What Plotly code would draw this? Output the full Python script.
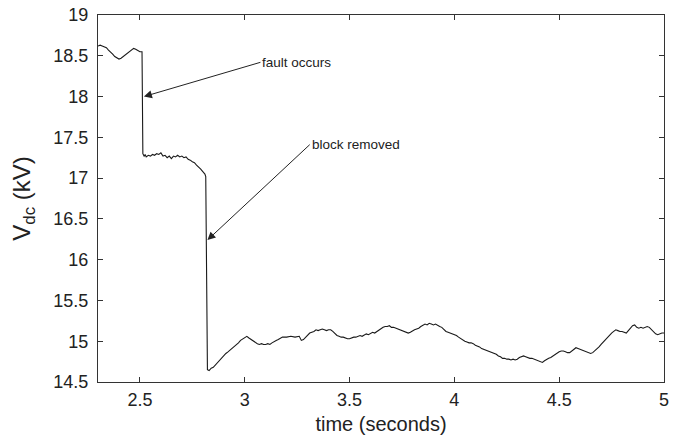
import plotly.graph_objects as go

time_s = [2.300, 2.310, 2.320, 2.330, 2.340, 2.350, 2.360, 2.370, 2.380, 2.390, 2.400, 2.410, 2.420, 2.430, 2.440, 2.450, 2.460, 2.470, 2.480, 2.490, 2.500, 2.510, 2.512, 2.514,
          2.520, 2.525, 2.530, 2.540, 2.550, 2.560, 2.570, 2.580, 2.590, 2.600, 2.610, 2.620, 2.630, 2.640, 2.650, 2.660, 2.670, 2.680, 2.690, 2.700, 2.710, 2.720, 2.730, 2.740, 2.750, 2.760, 2.770, 2.780, 2.790, 2.800, 2.810, 2.814, 2.816, 2.818, 2.820, 2.822,
          2.830, 2.840, 2.850, 2.860, 2.870, 2.880, 2.890, 2.900, 2.910, 2.920, 2.930, 2.940, 2.950, 2.960, 2.970, 2.980, 2.990, 3.000, 3.010, 3.020, 3.030, 3.040, 3.050, 3.060, 3.070, 3.080, 3.090, 3.100, 3.110, 3.120, 3.130, 3.140, 3.150, 3.160, 3.170, 3.180, 3.190, 3.200, 3.220, 3.240, 3.260, 3.270, 3.280, 3.290,
          3.300, 3.310, 3.320, 3.330, 3.340, 3.350, 3.360, 3.370, 3.380, 3.390, 3.400, 3.410, 3.420, 3.430, 3.440, 3.450, 3.460, 3.470, 3.480, 3.490, 3.500, 3.510, 3.520, 3.530, 3.540, 3.550, 3.560, 3.570, 3.580, 3.590,
          3.600, 3.610, 3.620, 3.630, 3.640, 3.650, 3.660, 3.670, 3.680, 3.690, 3.700, 3.710, 3.720, 3.730, 3.740, 3.750, 3.760, 3.770, 3.780, 3.790, 3.800, 3.810, 3.820, 3.830, 3.840, 3.850, 3.860, 3.870, 3.880, 3.890,
          3.900, 3.910, 3.920, 3.930, 3.940, 3.950, 3.960, 3.970, 3.980, 3.990, 4.000, 4.010, 4.020, 4.030, 4.040, 4.050, 4.060, 4.070, 4.080, 4.090, 4.100, 4.110, 4.120, 4.130, 4.140, 4.150, 4.160, 4.170, 4.180, 4.190,
          4.200, 4.210, 4.220, 4.230, 4.240, 4.250, 4.260, 4.270, 4.280, 4.290, 4.300, 4.310, 4.320, 4.330, 4.340, 4.350, 4.360, 4.370, 4.380, 4.390, 4.400, 4.410, 4.420, 4.430, 4.440, 4.450, 4.460, 4.470, 4.480, 4.490,
          4.500, 4.510, 4.520, 4.530, 4.540, 4.550, 4.560, 4.570, 4.580, 4.590, 4.600, 4.610, 4.620, 4.630, 4.640, 4.650, 4.660, 4.670, 4.680, 4.690, 4.700, 4.710, 4.720, 4.730, 4.740, 4.750, 4.760, 4.770, 4.780, 4.790,
          4.800, 4.810, 4.820, 4.830, 4.840, 4.850, 4.860, 4.870, 4.880, 4.890, 4.900, 4.910, 4.920, 4.930, 4.940, 4.950, 4.960, 4.970, 4.980, 4.990, 5.000]

vdc_kv = [18.62, 18.63, 18.62, 18.61, 18.60, 18.57, 18.55, 18.52, 18.49, 18.47, 18.46, 18.47, 18.49, 18.50, 18.52, 18.55, 18.57, 18.59, 18.58, 18.56, 18.55, 18.55, 17.95, 17.30,
          17.27, 17.29, 17.26, 17.28, 17.27, 17.29, 17.28, 17.30, 17.29, 17.31, 17.27, 17.28, 17.25, 17.27, 17.24, 17.27, 17.26, 17.28, 17.26, 17.27, 17.25, 17.26, 17.23, 17.22, 17.20, 17.19, 17.16, 17.14, 17.11, 17.08, 17.05, 17.02, 16.30, 15.90, 15.80, 14.65,
          14.64, 14.67, 14.68, 14.71, 14.73, 14.77, 14.80, 14.82, 14.85, 14.87, 14.89, 14.91, 14.94, 14.96, 14.98, 15.01, 15.03, 15.05, 15.06, 15.04, 15.02, 15.00, 14.98, 14.97, 14.96, 14.97, 14.96, 14.96, 14.97, 14.96, 14.98, 15.00, 15.01, 15.02, 15.04, 15.05, 15.05, 15.05, 15.06, 15.05, 15.06, 15.01, 15.02, 15.05,
          15.08, 15.10, 15.11, 15.12, 15.14, 15.13, 15.14, 15.15, 15.14, 15.13, 15.14, 15.14, 15.12, 15.09, 15.07, 15.06, 15.05, 15.05, 15.04, 15.03, 15.03, 15.04, 15.05, 15.05, 15.06, 15.07, 15.06, 15.08, 15.09, 15.08,
          15.10, 15.11, 15.10, 15.12, 15.14, 15.15, 15.17, 15.18, 15.18, 15.19, 15.17, 15.17, 15.16, 15.15, 15.14, 15.13, 15.12, 15.11, 15.10, 15.11, 15.13, 15.14, 15.15, 15.16, 15.18, 15.20, 15.21, 15.20, 15.22, 15.21,
          15.20, 15.21, 15.19, 15.18, 15.17, 15.14, 15.12, 15.11, 15.10, 15.09, 15.08, 15.07, 15.05, 15.03, 15.02, 15.00, 14.99, 14.98, 14.98, 14.97, 14.95, 14.94, 14.93, 14.91, 14.90, 14.89, 14.88, 14.87, 14.86, 14.85,
          14.84, 14.82, 14.81, 14.79, 14.79, 14.78, 14.78, 14.77, 14.78, 14.77, 14.78, 14.80, 14.81, 14.82, 14.81, 14.80, 14.79, 14.79, 14.78, 14.77, 14.76, 14.75, 14.74, 14.76, 14.78, 14.79, 14.80, 14.82, 14.84, 14.86,
          14.87, 14.88, 14.88, 14.87, 14.86, 14.86, 14.88, 14.90, 14.92, 14.91, 14.90, 14.89, 14.88, 14.87, 14.86, 14.85, 14.86, 14.88, 14.90, 14.93, 14.96, 14.99, 15.02, 15.05, 15.08, 15.10, 15.12, 15.14, 15.13, 15.12,
          15.12, 15.11, 15.10, 15.13, 15.16, 15.19, 15.20, 15.17, 15.16, 15.17, 15.16, 15.17, 15.18, 15.17, 15.14, 15.11, 15.09, 15.08, 15.09, 15.10, 15.10]

x_ticks = [2.5, 3, 3.5, 4, 4.5, 5]
y_ticks = [14.5, 15, 15.5, 16, 16.5, 17, 17.5, 18, 18.5, 19]

fig = go.Figure()
fig.add_trace(go.Scatter(x=time_s, y=vdc_kv, mode="lines",
                         line=dict(color="#1a1a1a", width=1.1), showlegend=False))

axis_common = dict(showline=True, linecolor="#333", linewidth=1, mirror="ticks",
                   ticks="inside", ticklen=5, tickcolor="#333", showgrid=False,
                   zeroline=False, automargin=False, tickfont=dict(size=18, color="#222"))

fig.update_xaxes(range=[2.3, 5], tickvals=x_ticks, ticktext=[f"{v:g}" for v in x_ticks],
                 ticklabelstandoff=1,
                 title=dict(text="time (seconds)", font=dict(size=20, color="#222"), standoff=8),
                 **axis_common)
fig.update_yaxes(range=[14.5, 19], tickvals=y_ticks, ticktext=[f"{v:g}" for v in y_ticks],
                 ticklabelstandoff=5,
                 title=dict(text="V<sub>dc</sub> (kV)", font=dict(size=24, color="#222"), standoff=15),
                 **axis_common)

# arrows whose tails sit at the left edge of the label text
fig.add_annotation(x=2.519, y=18.0, ax=3.075, ay=18.42, text="fault occurs",
                   xanchor="left", yanchor="middle", showarrow=True, arrowhead=2,
                   arrowsize=1.6, arrowwidth=1, arrowcolor="#222",
                   axref="x", ayref="y", xref="x", yref="y",
                   font=dict(size=13.5, color="#222"))
fig.add_annotation(x=2.822, y=16.24, ax=3.31, ay=17.41, text="block removed",
                   xanchor="left", yanchor="middle", showarrow=True, arrowhead=2,
                   arrowsize=1.6, arrowwidth=1, arrowcolor="#222",
                   axref="x", ayref="y", xref="x", yref="y",
                   font=dict(size=13.5, color="#222"))

fig.update_layout(width=685, height=441, margin=dict(l=98, r=21, t=15, b=59, autoexpand=False),
                  plot_bgcolor="white", paper_bgcolor="white",
                  font=dict(family="Liberation Sans, Arial, sans-serif", color="#222"))

fig.write_html("out.html", config={"displayModeBar": False},
               post_script="document.body.style.margin='0';document.body.style.overflow='hidden';")
